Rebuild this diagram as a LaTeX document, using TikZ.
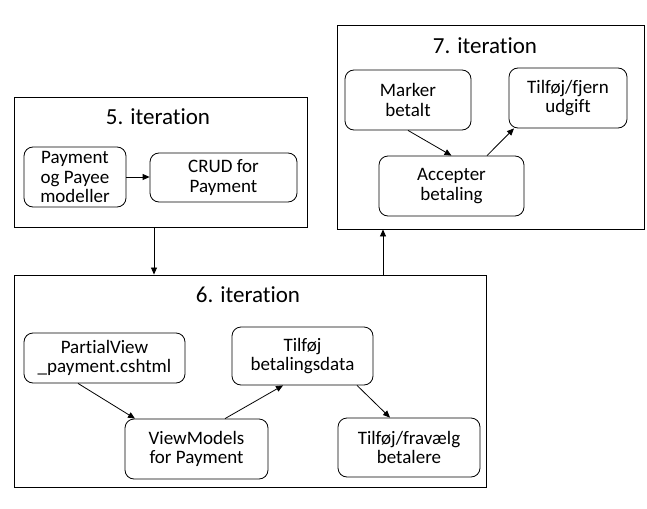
\documentclass[tikz,border=0pt]{standalone}
\usepackage{fontspec}
\setmainfont{Carlito}[Ligatures=NoCommon]
\usetikzlibrary{arrows.meta}
\begin{document}
\begin{tikzpicture}[x=1pt,y=-1pt,
  group/.style={draw, line width=0.9pt, inner sep=0pt},
  title/.style={font=\fontsize{23}{27}\selectfont, inner sep=0pt},
  item/.style={draw, rounded corners=9pt, line width=0.8pt, align=center,
    font=\fontsize{19}{19.8}\selectfont, inner sep=0pt},
  arr/.style={-{Triangle[length=7pt,width=6pt]}, line width=0.8pt}]
\useasboundingbox (0,0) rectangle (647,508);
% groups
\node[group, minimum width=293pt, minimum height=130pt] (g5) at (160.5,162) {};
\node[group, minimum width=307pt, minimum height=204pt] (g7) at (490.5,127) {};
\node[group, minimum width=472pt, minimum height=212pt] (g6) at (250,381) {};
% titles
\node[title] (t5) at (158,117) {5. iteration};
\node[title] (t7) at (485,46) {7. iteration};
\node[title] (t6) at (248,295) {6. iteration};
% items
\node[item, minimum width=102pt, minimum height=60pt] (pay) at (75,177) {Payment\\og Payee\\modeller};
\node[item, minimum width=147pt, minimum height=49pt] (crud) at (223.5,177.5) {CRUD for\\Payment};
\node[item, minimum width=126pt, minimum height=60pt] (mark) at (408,100) {Marker\\betalt};
\node[item, minimum width=118pt, minimum height=60pt] (tf) at (568,98) {Tilføj/fjern\\udgift};
\node[item, minimum width=145pt, minimum height=60pt] (acc) at (451.5,186) {Accepter\\betaling};
\node[item, minimum width=161pt, minimum height=50pt] (pv) at (104.5,358) {PartialView\\\_payment.cshtml};
\node[item, minimum width=141pt, minimum height=58pt] (tb) at (302.5,356) {Tilføj\\betalingsdata};
\node[item, minimum width=143pt, minimum height=60pt] (vm) at (196.5,449) {ViewModels\\for Payment};
\node[item, minimum width=142pt, minimum height=59pt] (tfr) at (409,447.5) {Tilføj/fravælg\\betalere};
% connectors
\draw[arr] (pay.east) -- (crud.west |- pay.east);
\draw[arr] ([xshift=-6.5pt]g5.south) -- ([xshift=-6.5pt]g5.south |- g6.north);
\draw[arr] ([xshift=133pt]g6.north) -- ([xshift=133pt]g6.north |- g7.south);
\draw[arr] (mark.south) -- (acc.north);
\draw[arr] ([xshift=35.5pt]acc.north) -- ([xshift=-54pt]tf.south);
\draw[arr] ([xshift=-26.5pt]pv.south) -- ([xshift=-61.5pt]vm.north);
\draw[arr] ([xshift=28.5pt]vm.north) -- ([xshift=-19.5pt]tb.south);
\draw[arr] ([xshift=54.5pt]tb.south) -- ([xshift=-19pt]tfr.north);
\end{tikzpicture}
\end{document}
